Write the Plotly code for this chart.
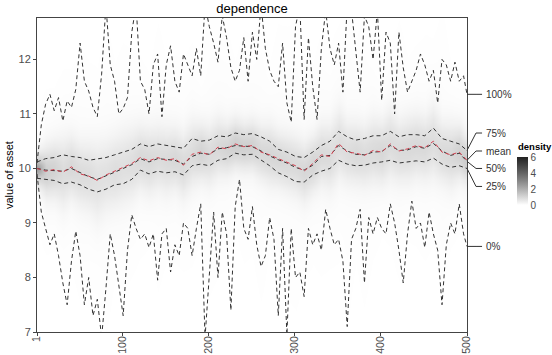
import numpy as np
import plotly.graph_objects as go

# ---------------- data ----------------
# index of the min / max series (every 5 steps)
MM_IDX = list(range(1, 500, 5)) + [500]
MAX_VALS = [10.1, 10.8, 11.18, 11.36, 11.06, 11.3, 10.87, 11.24, 11.12, 11.45,
            12.3, 11.6, 11.42, 11.12, 10.95, 11.73, 13.0, 11.9, 11.6, 11.0,
            11.1, 11.3, 12.5, 13.0, 11.6, 11.45, 11.0, 11.9, 12.1, 10.95,
            11.9, 12.25, 11.6, 11.4, 12.1, 11.9, 11.7, 12.2, 11.7, 13.0,
            12.6, 12.3, 11.95, 12.8, 12.4, 11.85, 11.6, 11.8, 12.4, 11.6,
            12.5, 12.0, 13.0, 12.2, 11.8, 11.6, 11.5, 12.3, 11.2, 10.85,
            12.6, 13.0, 10.9, 12.4, 11.5, 10.9, 12.2, 12.9, 12.2, 11.9,
            12.3, 11.4, 13.0, 12.9, 12.2, 11.4, 12.8, 12.6, 12.0, 12.9,
            11.25, 12.5, 12.3, 11.0, 12.5, 11.85, 11.4, 11.6, 11.8, 12.1,
            11.9, 11.6, 11.8, 11.2, 12.0, 11.9, 11.6, 11.95, 11.6, 11.7,
            11.36]
MIN_VALS = [9.9, 9.2, 8.9, 8.6, 8.8, 8.4, 7.9, 7.5, 8.3, 8.85,
            8.4, 7.5, 8.0, 7.3, 7.6, 6.9, 7.8, 8.8, 8.4, 7.8,
            7.3, 8.5, 9.15, 8.9, 8.7, 8.8, 8.55, 8.8, 7.95, 8.8,
            8.9, 8.1, 8.6, 8.4, 9.0, 8.9, 8.4, 8.9, 9.35, 6.9,
            8.1, 9.2, 8.0, 9.2, 8.8, 7.4, 9.3, 9.8, 8.9, 8.7,
            9.3, 8.6, 8.2, 8.4, 9.1, 8.7, 7.3, 8.9, 6.95, 8.9,
            8.0, 8.1, 7.65, 8.9, 8.6, 8.8, 8.5, 9.25, 8.9, 8.6,
            8.7, 8.3, 7.1, 8.7, 8.9, 9.25, 7.9, 9.1, 8.8, 9.1,
            8.9, 8.8, 9.35, 9.0, 8.5, 7.9, 8.8, 9.4, 8.9, 9.0,
            8.55, 9.2, 8.8, 8.5, 7.5, 8.6, 9.0, 8.8, 9.35, 8.8,
            8.57]

# index of the quantile / mean series (every 10 steps)
Q_IDX = list(range(1, 500, 10)) + [500]
MEAN_VALS = [10.0, 9.95, 9.98, 9.93, 10.03, 9.9, 9.86, 9.78, 9.88, 9.95,
             10.02, 10.09, 10.2, 10.14, 10.2, 10.15, 10.18, 10.06, 10.26, 10.3,
             10.25, 10.39, 10.36, 10.45, 10.4, 10.42, 10.3, 10.25, 10.18, 10.12,
             10.05, 9.95, 10.09, 10.25, 10.22, 10.46, 10.3, 10.28, 10.24, 10.33,
             10.3, 10.45, 10.32, 10.36, 10.42, 10.38, 10.5, 10.3, 10.25, 10.3,
             10.15]
MEDIAN_VALS = [10.0, 9.97, 9.96, 9.95, 10.0, 9.92, 9.85, 9.8, 9.86, 9.93,
               10.0, 10.07, 10.18, 10.12, 10.18, 10.16, 10.15, 10.08, 10.22, 10.28,
               10.26, 10.36, 10.38, 10.42, 10.41, 10.4, 10.32, 10.23, 10.16, 10.1,
               10.02, 9.97, 10.06, 10.22, 10.24, 10.42, 10.32, 10.26, 10.25, 10.3,
               10.31, 10.42, 10.33, 10.34, 10.4, 10.37, 10.46, 10.32, 10.24, 10.28,
               10.13]
Q75_VALS = [10.12, 10.18, 10.2, 10.25, 10.22, 10.2, 10.15, 10.18, 10.2, 10.25,
            10.3, 10.35, 10.45, 10.4, 10.45, 10.42, 10.4, 10.37, 10.55, 10.5,
            10.52, 10.6, 10.58, 10.65, 10.62, 10.64, 10.58, 10.5, 10.35, 10.3,
            10.22, 10.2, 10.3, 10.42, 10.5, 10.68, 10.58, 10.52, 10.55, 10.6,
            10.6, 10.68, 10.58, 10.62, 10.62, 10.6, 10.74, 10.55, 10.5, 10.45,
            10.33]
Q25_VALS = [9.82, 9.8, 9.78, 9.72, 9.75, 9.7, 9.62, 9.57, 9.62, 9.7,
            9.72, 9.8, 9.97, 9.9, 9.95, 9.92, 9.94, 9.88, 10.05, 10.08,
            10.05, 10.15, 10.18, 10.28, 10.25, 10.26, 10.15, 10.05, 9.92, 9.85,
            9.76, 9.75, 9.88, 9.95, 10.0, 10.15, 10.08, 10.05, 10.06, 10.1,
            10.12, 10.15, 10.1, 10.12, 10.14, 10.12, 10.19, 10.08, 10.02, 10.05,
            10.0]

X_TICKS = [1, 100, 200, 300, 400, 500]
Y_TICKS = [7, 8, 9, 10, 11, 12]
LABELS = ["100%", "75%", "mean", "50%", "25%", "0%"]
CB_TICKS = [0, 2, 4, 6]

# ---------------- styling ----------------
FONT = "Liberation Sans, Arial, sans-serif"
LINE_DARK = "#333333"
MEAN_RED = "#d2404f"
DASH = "4px,3px"


def gray_at(t):
    L = 100 - t * (100 - 13)
    fy = (L + 16) / 116
    Y = fy ** 3 if fy ** 3 > 0.008856 else L / 903.3
    c = 1.055 * Y ** (1 / 2.4) - 0.055 if Y > 0.0031308 else 12.92 * Y
    v = int(round(255 * min(max(c, 0), 1)))
    return f"rgb({v},{v},{v})"


colorscale = [[float(t), gray_at(t)] for t in np.linspace(0, 1, 13)]

# density field derived from the read quantiles
mm_max = dict(zip(MM_IDX, MAX_VALS))
mm_min = dict(zip(MM_IDX, MIN_VALS))
grid = np.arange(6.9, 12.9, 0.02)
cols = []
for i, idx in enumerate(Q_IDX):
    m = MEAN_VALS[i]
    s1 = max((Q75_VALS[i] - Q25_VALS[i]) / 1.349, 0.06)
    s2 = max((mm_max[idx] - mm_min[idx]) / 3.5, 0.1)
    d = (0.7 * np.exp(-0.5 * ((grid - m) / s1) ** 2) / (s1 * np.sqrt(2 * np.pi))
         + 0.3 * np.exp(-0.5 * ((grid - m) / s2) ** 2) / (s2 * np.sqrt(2 * np.pi)))
    cols.append(d)
Z = np.array(cols).T

fig = go.Figure()
fig.add_trace(go.Heatmap(
    x=Q_IDX, y=grid, z=Z, zmin=0, zmax=6, zsmooth="best",
    colorscale=colorscale, hoverinfo="skip",
    colorbar=dict(
        x=(517 - 37) / 430, xanchor="left", xpad=0,
        y=(332 - 205) / 314, yanchor="bottom", ypad=0,
        len=48, lenmode="pixels", thickness=11,
        tickvals=CB_TICKS, ticks="", outlinewidth=0,
        tickfont=dict(size=10, family=FONT, color="#4d4d4d"),
    ),
))

series = [
    (MM_IDX, MAX_VALS, LINE_DARK),
    (MM_IDX, MIN_VALS, LINE_DARK),
    (Q_IDX, Q75_VALS, LINE_DARK),
    (Q_IDX, Q25_VALS, LINE_DARK),
    (Q_IDX, MEDIAN_VALS, LINE_DARK),
    (Q_IDX, MEAN_VALS, MEAN_RED),
]
for xs, ys, col in series:
    fig.add_trace(go.Scatter(x=xs, y=ys, mode="lines",
                             line=dict(color=col, width=1, dash=DASH),
                             hoverinfo="skip", showlegend=False))

# right-hand labels with connectors
ends = [MAX_VALS[-1], Q75_VALS[-1], MEAN_VALS[-1], MEDIAN_VALS[-1],
        Q25_VALS[-1], MIN_VALS[-1]]
label_y = [11.36, 10.65, 10.32, 10.0, 9.67, 8.57]
shapes = []
annotations = []
for lab, e, ly in zip(LABELS, ends, label_y):
    shapes.append(dict(type="path", xref="paper", yref="y",
                       path=f"M 1,{e} L 1.021,{ly} L 1.035,{ly}",
                       line=dict(color="#333", width=1)))
    annotations.append(dict(text=lab, xref="paper", yref="y", x=1.04, y=ly,
                            xanchor="left", yanchor="middle", showarrow=False,
                            font=dict(size=10, family=FONT, color="#333")))
annotations.append(dict(text="value of asset", xref="paper", yref="paper",
                        x=(9 - 37) / 430, y=0.5, textangle=-90, showarrow=False,
                        xanchor="center", yanchor="middle",
                        font=dict(size=11, family=FONT, color="#000")))
annotations.append(dict(text="<b>density</b>", xref="paper", yref="paper",
                        x=(516 - 37) / 430, y=(332 - 146) / 314,
                        xanchor="left", yanchor="middle", showarrow=False,
                        font=dict(size=9.5, family=FONT, color="#000")))

fig.update_layout(
    width=552, height=355, template="none",
    margin=dict(l=37, r=85, t=18, b=23, autoexpand=False),
    plot_bgcolor="white", paper_bgcolor="white", showlegend=False,
    title=dict(text="dependence", x=0.5, xref="paper", xanchor="center",
               y=1 - 8 / 355, yref="container", yanchor="middle",
               font=dict(size=13, family=FONT, color="#000")),
    shapes=shapes, annotations=annotations,
    font=dict(family=FONT),
)
fig.update_xaxes(range=[1, 500], tickvals=X_TICKS, tickangle=-90,
                 showgrid=False, zeroline=False, showline=True, mirror=True,
                 linecolor="#444", linewidth=1, ticks="outside", ticklen=3,
                 tickcolor="#444", automargin=False, ticklabelstandoff=-4,
                 tickfont=dict(size=10.5, family=FONT, color="#4d4d4d"))
fig.update_yaxes(range=[7, 12.76], tickvals=Y_TICKS,
                 showgrid=False, zeroline=False, showline=True, mirror=True,
                 linecolor="#444", linewidth=1, ticks="outside", ticklen=3,
                 tickcolor="#444", automargin=False,
                 tickfont=dict(size=11, family=FONT, color="#4d4d4d"))

fig.write_html("out.html", config={"displayModeBar": False},
               post_script="document.body.style.margin='0px';"
                           "document.body.style.padding='0px';")
